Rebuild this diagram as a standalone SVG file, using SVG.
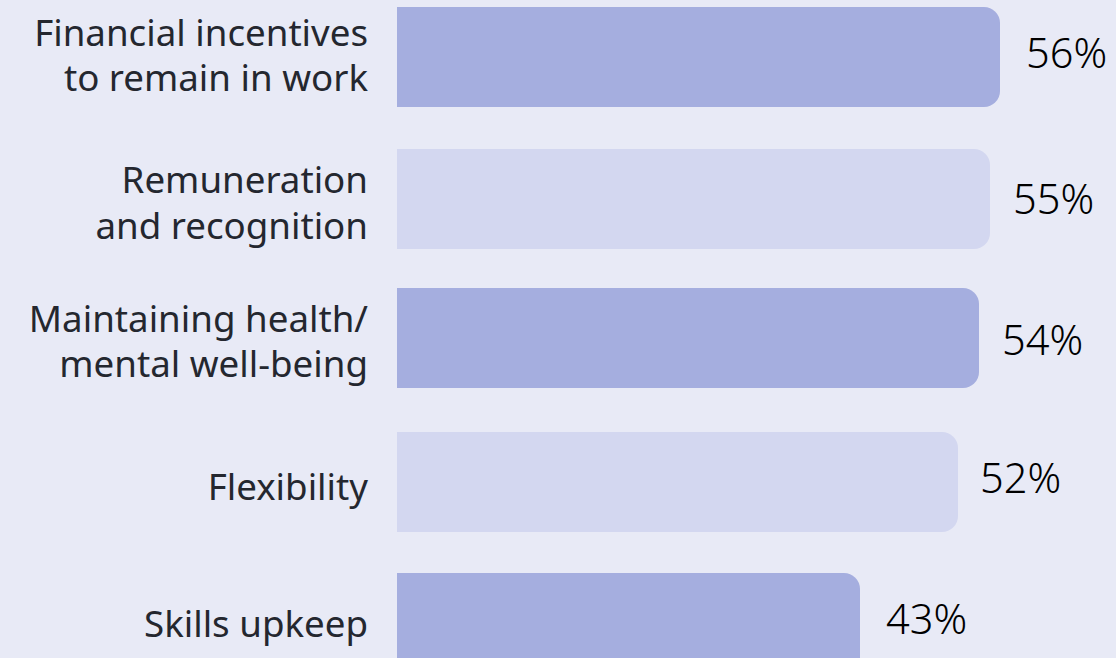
<svg xmlns="http://www.w3.org/2000/svg" width="1116" height="658" viewBox="0 0 1116 658">
<style>
.lbl{font-family:"Noto Sans","Open Sans",sans-serif;font-size:36.7px;fill:#24272f;text-anchor:end}
.pct{font-family:"Noto Sans","Open Sans",sans-serif;font-size:41.5px;font-weight:300;fill:#000}
.dark{fill:#a5aedf}
.light{fill:#d3d7f0}
</style>
<rect x="0" y="0" width="1116" height="658" fill="#e8eaf6"/>
<g id="bar1">
<path class="dark" d="M397 7H984A16 16 0 0 1 1000 23V91A16 16 0 0 1 984 107H397Z"/>
<text class="lbl" x="368" y="46">Financial incentives</text>
<text class="lbl" x="368" y="91">to remain in work</text>
<text class="pct" x="1026" y="68">56%</text>
</g>
<g id="bar2">
<path class="light" d="M397 149H974A16 16 0 0 1 990 165V233A16 16 0 0 1 974 249H397Z"/>
<text class="lbl" x="368" y="193">Remuneration</text>
<text class="lbl" x="368" y="239">and recognition</text>
<text class="pct" x="1013" y="214">55%</text>
</g>
<g id="bar3">
<path class="dark" d="M397 288H963A16 16 0 0 1 979 304V372A16 16 0 0 1 963 388H397Z"/>
<text class="lbl" x="368" y="332">Maintaining health/</text>
<text class="lbl" x="368" y="377">mental well-being</text>
<text class="pct" x="1002" y="355">54%</text>
</g>
<g id="bar4">
<path class="light" d="M397 432H942A16 16 0 0 1 958 448V516A16 16 0 0 1 942 532H397Z"/>
<text class="lbl" x="368" y="500">Flexibility</text>
<text class="pct" x="980" y="493">52%</text>
</g>
<g id="bar5">
<path class="dark" d="M397 573H844A16 16 0 0 1 860 589V657A16 16 0 0 1 844 673H397Z"/>
<text class="lbl" x="368" y="637">Skills upkeep</text>
<text class="pct" x="886" y="634">43%</text>
</g>
</svg>
